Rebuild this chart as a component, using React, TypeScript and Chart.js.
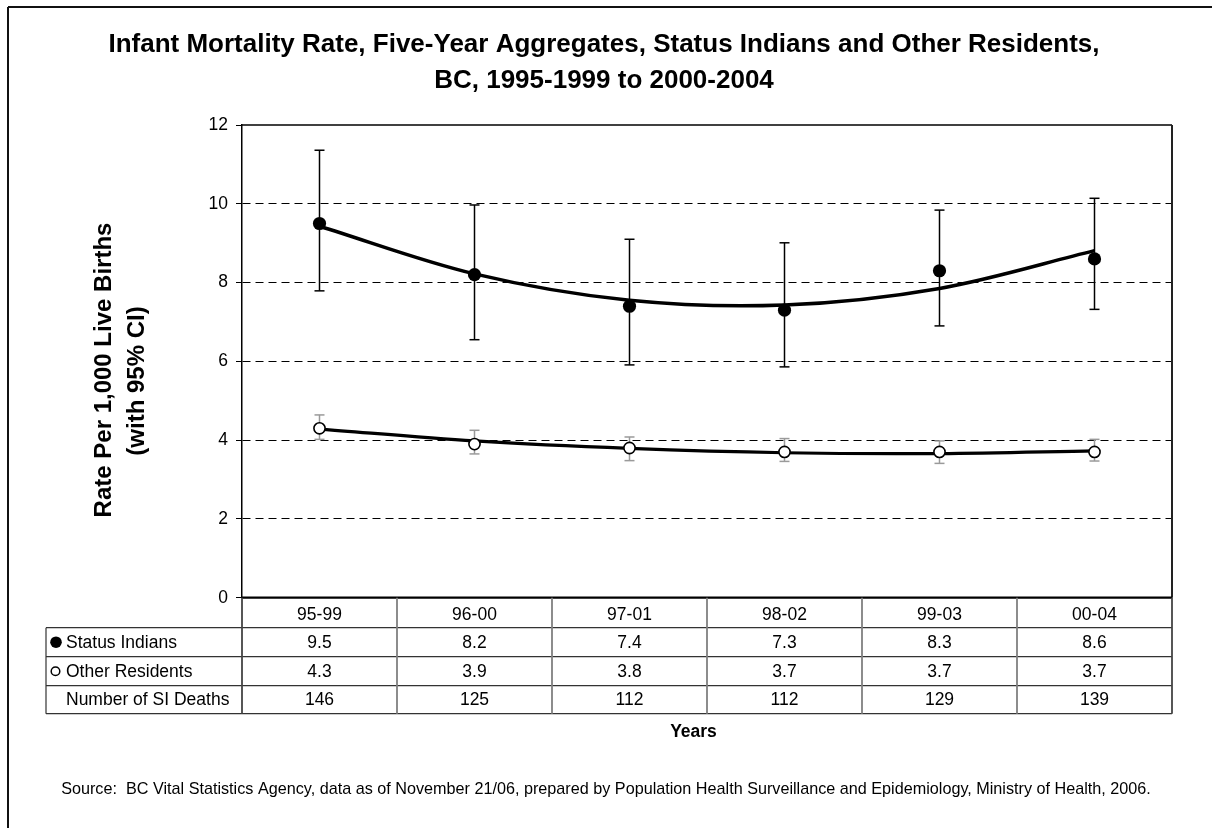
import React, { useEffect, useRef } from 'react';
import { Chart, registerables } from 'chart.js';

Chart.register(...registerables);

const FONT = '"Liberation Sans", Arial, Helvetica, sans-serif';

const titleLines = [
  'Infant Mortality Rate, Five-Year Aggregates, Status Indians and Other Residents,',
  'BC, 1995-1999 to 2000-2004',
];
const yTitleLines = ['Rate Per 1,000 Live Births', '(with 95% CI)'];
const xTitle = 'Years';
const sourceText =
  'Source:  BC Vital Statistics Agency, data as of November 21/06, prepared by Population Health Surveillance and Epidemiology, Ministry of Health, 2006.';

const categories = ['95-99', '96-00', '97-01', '98-02', '99-03', '00-04'];
const yTicks = [0, 2, 4, 6, 8, 10, 12];

const statusIndians = [9.5, 8.2, 7.4, 7.3, 8.3, 8.6];
const statusLow = [7.79, 6.55, 5.91, 5.86, 6.9, 7.32];
const statusHigh = [11.36, 9.97, 9.1, 9.01, 9.84, 10.14];
const statusTrend = [9.43, 8.22, 7.55, 7.43, 7.85, 8.81];

const otherResidents = [4.3, 3.9, 3.8, 3.7, 3.7, 3.7];
const otherLow = [4.02, 3.65, 3.48, 3.46, 3.41, 3.47];
const otherHigh = [4.64, 4.25, 4.08, 4.04, 3.98, 4.02];
const otherTrend = [4.28, 3.98, 3.79, 3.68, 3.66, 3.73];

const siDeaths = [146, 125, 112, 112, 129, 139];

const rowLabels = ['Status Indians', 'Other Residents', 'Number of SI Deaths'];

const decorPlugin = {
  id: 'decor',
  beforeDatasetsDraw(chart: any) {
    const { ctx, chartArea: a, scales } = chart;
    const x = scales.x;
    const y = scales.y;
    const line = (x1: number, y1: number, x2: number, y2: number) => {
      ctx.beginPath();
      ctx.moveTo(x1, y1);
      ctx.lineTo(x2, y2);
      ctx.stroke();
    };
    ctx.save();
    ctx.setLineDash([]);
    // plot frame
    ctx.strokeStyle = '#000';
    ctx.lineWidth = 1.5;
    line(a.left, a.top, a.right, a.top);
    ctx.strokeStyle = '#222';
    ctx.lineWidth = 2;
    line(a.right, a.top, a.right, a.bottom);
    ctx.strokeStyle = '#000';
    ctx.lineWidth = 2.2;
    line(a.left, a.bottom, a.right, a.bottom);

    // error bars
    const drawErr = (lo: number[], hi: number[], color: string, w: number, cap: number) => {
      ctx.strokeStyle = color;
      ctx.lineWidth = w;
      lo.forEach((l, i) => {
        const px = x.getPixelForValue(i);
        const pl = y.getPixelForValue(l);
        const ph = y.getPixelForValue(hi[i]);
        line(px, pl, px, ph);
        line(px - cap, pl, px + cap, pl);
        line(px - cap, ph, px + cap, ph);
      });
    };
    drawErr(statusLow, statusHigh, '#000', 1.5, 5);
    drawErr(otherLow, otherHigh, '#9a9a9a', 1.5, 5);
    ctx.restore();
  },
  afterDraw(chart: any) {
    const { ctx, chartArea: a, scales } = chart;
    const x = scales.x;
    const line = (x1: number, y1: number, x2: number, y2: number) => {
      ctx.beginPath();
      ctx.moveTo(x1, y1);
      ctx.lineTo(x2, y2);
      ctx.stroke();
    };
    ctx.save();
    ctx.setLineDash([]);

    // outer chart border (top & left)
    ctx.strokeStyle = '#111';
    ctx.lineWidth = 2;
    line(8, 7, chart.width, 7);
    line(8, 7, 8, chart.height);

    // data table
    const t0 = a.bottom;
    const rows = [t0, t0 + 30, t0 + 59, t0 + 88, t0 + 116];
    const tableLeft = 46;
    ctx.strokeStyle = '#333';
    ctx.lineWidth = 1.2;
    for (let r = 1; r < rows.length; r++) line(tableLeft, rows[r], a.right, rows[r]);
    line(tableLeft, rows[1], tableLeft, rows[4]);
    ctx.strokeStyle = '#444';
    ctx.lineWidth = 1.8;
    line(a.left, rows[0], a.left, rows[4]);
    line(a.right, rows[0], a.right, rows[4]);
    ctx.strokeStyle = '#808080';
    for (let i = 0; i < categories.length - 1; i++) {
      const bx = (x.getPixelForValue(i) + x.getPixelForValue(i + 1)) / 2;
      line(bx, rows[0], bx, rows[4]);
    }

    ctx.fillStyle = '#000';
    ctx.font = `17.5px ${FONT}`;
    ctx.textBaseline = 'middle';
    ctx.textAlign = 'center';
    const tableRows = [
      statusIndians.map((v) => v.toFixed(1)),
      otherResidents.map((v) => v.toFixed(1)),
      siDeaths.map((v) => String(v)),
    ];
    tableRows.forEach((vals, r) => {
      const cy = (rows[r + 1] + rows[r + 2]) / 2 + 0.5;
      vals.forEach((v, i) => ctx.fillText(v, x.getPixelForValue(i), cy));
    });

    // row labels with legend markers
    ctx.textAlign = 'left';
    rowLabels.forEach((lab, r) => {
      const cy = (rows[r + 1] + rows[r + 2]) / 2 + 0.5;
      ctx.fillText(lab, 66, cy);
    });
    let cy = (rows[1] + rows[2]) / 2;
    ctx.beginPath();
    ctx.arc(56, cy, 5.8, 0, Math.PI * 2);
    ctx.fill();
    cy = (rows[2] + rows[3]) / 2;
    ctx.beginPath();
    ctx.arc(55.5, cy, 4.3, 0, Math.PI * 2);
    ctx.fillStyle = '#fff';
    ctx.fill();
    ctx.strokeStyle = '#000';
    ctx.lineWidth = 1.5;
    ctx.stroke();

    // axis titles
    ctx.fillStyle = '#000';
    ctx.textAlign = 'center';
    ctx.textBaseline = 'middle';
    ctx.font = `bold 17.5px ${FONT}`;
    ctx.fillText(xTitle, 693.5, 732.5);

    ctx.font = `bold 24px ${FONT}`;
    const yPos = [
      [104, 370],
      [137, 381],
    ];
    yTitleLines.forEach((txt, i) => {
      ctx.save();
      ctx.translate(yPos[i][0], yPos[i][1]);
      ctx.rotate(-Math.PI / 2);
      ctx.fillText(txt, 0, 0);
      ctx.restore();
    });

    // source
    ctx.font = `16.2px ${FONT}`;
    ctx.fillText(sourceText, 606, 790);
    ctx.restore();
  },
};

export default function App() {
  const canvasRef = useRef<HTMLCanvasElement | null>(null);

  useEffect(() => {
    document.body.style.margin = '0';
    const canvas = canvasRef.current;
    if (!canvas) return;
    const chart = new Chart(canvas, {
      type: 'line',
      data: {
        labels: categories,
        datasets: [
          {
            label: 'Status Indians',
            data: statusIndians,
            showLine: false,
            pointRadius: 6.6,
            pointBackgroundColor: '#000',
            pointBorderColor: '#000',
            pointBorderWidth: 0,
          },
          {
            label: 'Other Residents',
            data: otherResidents,
            showLine: false,
            pointRadius: 5.6,
            pointBackgroundColor: '#fff',
            pointBorderColor: '#000',
            pointBorderWidth: 1.6,
          },
          {
            label: 'Status Indians trend',
            data: statusTrend,
            borderColor: '#000',
            borderWidth: 3.5,
            pointRadius: 0,
            tension: 0.333,
            fill: false,
          },
          {
            label: 'Other Residents trend',
            data: otherTrend,
            borderColor: '#000',
            borderWidth: 3.2,
            pointRadius: 0,
            tension: 0.333,
            fill: false,
          },
        ],
      },
      options: {
        responsive: false,
        devicePixelRatio: 1,
        animation: false,
        events: [],
        layout: { padding: { left: 36, right: 40, top: 0, bottom: 0 } },
        plugins: {
          legend: { display: false },
          tooltip: { enabled: false },
          title: {
            display: true,
            text: titleLines,
            color: '#000',
            font: { family: FONT, size: 26, weight: 'bold', lineHeight: 1.385 },
            padding: { top: 27, bottom: 26 },
          },
        },
        scales: {
          x: {
            type: 'category',
            offset: true,
            grid: { display: false, drawTicks: false },
            border: { display: false },
            ticks: {
              color: '#000',
              font: { family: FONT, size: 17.5 },
              padding: 7,
              maxRotation: 0,
              autoSkip: false,
            },
            afterFit: (scale: any) => {
              scale.height = 230.3;
            },
          },
          y: {
            min: 0,
            max: 12,
            afterBuildTicks: (scale: any) => {
              scale.ticks = yTicks.map((v) => ({ value: v }));
            },
            grid: {
              color: (c: any) =>
                c.tick && (c.tick.value === 0 || c.tick.value === 12) ? 'rgba(0,0,0,0)' : '#000',
              lineWidth: 1,
              drawTicks: true,
              tickLength: 6,
              tickColor: '#000',
              tickWidth: 1,
            },
            border: { display: true, color: '#000', width: 1.5, dash: [8, 5] },
            ticks: {
              color: '#000',
              font: { family: FONT, size: 17.5 },
              padding: 8,
            },
            afterFit: (scale: any) => {
              scale.width = 206;
            },
          },
        },
      },
      plugins: [decorPlugin],
    } as any);
    return () => chart.destroy();
  }, []);

  return (
    <div style={{ width: 1212, height: 828, background: '#fff' }}>
      <canvas ref={canvasRef} width={1212} height={828} style={{ display: 'block' }} />
    </div>
  );
}
